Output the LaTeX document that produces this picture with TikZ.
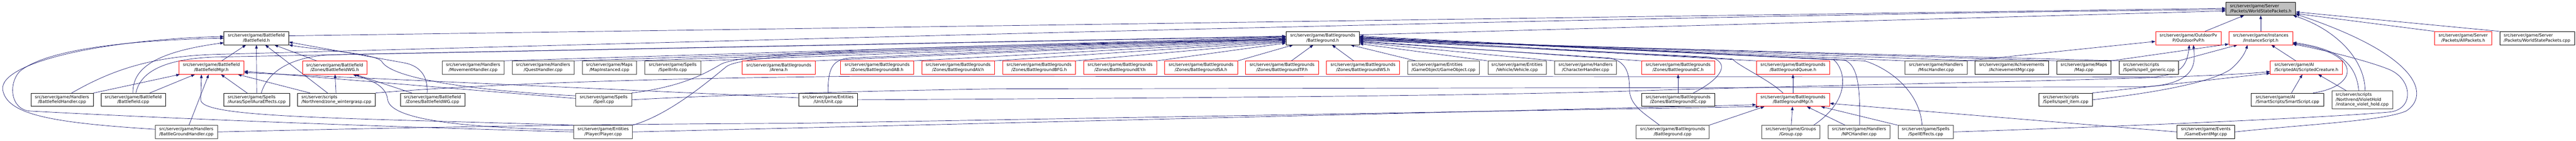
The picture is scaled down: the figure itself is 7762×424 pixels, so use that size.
\documentclass[tikz,border=0pt]{standalone}
\usepackage{fontspec}
\setmainfont{DejaVu Sans}
\usetikzlibrary{arrows.meta}
\definecolor{edgec}{RGB}{25,25,112}
\definecolor{rootfill}{RGB}{191,191,191}
\pgfdeclarelayer{bg}
\pgfsetlayers{bg,main}
\tikzset{
  nb/.style={draw=black, line width=1pt, fill=white, minimum height=40pt, inner xsep=0pt, inner ysep=0pt,
             font=\fontsize{12.6}{15}\selectfont, align=center},
  nr/.style={nb, draw=red},
  ng/.style={nb, draw=black!75},
  nl/.style={align=left},
  e/.style={draw=edgec, line width=1.1pt, -{Triangle[length=11pt,width=8pt]}}
}
\begin{document}
\begin{tikzpicture}[x=1pt,y=-1pt]
\useasboundingbox (0,0) rectangle (7762,424);
% ---------- row 0
\node[nb,nl,fill=rootfill,minimum width=210pt] (root) at (6812,26) {src/server/game/Server\\/Packets/WorldStatePackets.h};
% ---------- row 1
\node[nb,minimum width=195pt] (bfh) at (772.5,115) {src/server/game/Battlefield\\/Battlefield.h};
\node[nb,minimum width=221pt] (bgh) at (3985.5,115) {src/server/game/Battlegrounds\\/Battleground.h};
\node[nr,minimum width=198pt] (opvp) at (6594,115) {src/server/game/OutdoorPv\\P/OutdoorPvP.h};
\node[nr,minimum width=192pt] (inst) at (6812,115) {src/server/game/Instances\\/InstanceScript.h};
\node[nr,minimum width=172pt] (allp) at (7422,115) {src/server/game/Server\\/Packets/AllPackets.h};
\node[nb,nl,minimum width=225pt] (wspc) at (7644.5,115) {src/server/game/Server\\/Packets/WorldStatePackets.cpp};
% ---------- row 2
\node[nr,minimum width=196pt] (bfmgr) at (637,204) {src/server/game/Battlefield\\/BattlefieldMgr.h};
\node[nr,minimum width=195pt] (bfwgh) at (1008.5,204) {src/server/game/Battlefield\\/Zones/BattlefieldWG.h};
\node[ng,minimum width=187pt] (movh) at (1425.5,204) {src/server/game/Handlers\\/MovementHandler.cpp};
\node[ng,minimum width=187pt] (questh) at (1636.5,204) {src/server/game/Handlers\\/QuestHandler.cpp};
\node[ng,minimum width=164pt] (mapinst) at (1836,204) {src/server/game/Maps\\/MapInstanced.cpp};
\node[ng,minimum width=168pt] (spinfo) at (2027,204) {src/server/game/Spells\\/SpellInfo.cpp};
\node[nr,minimum width=221pt] (arena) at (2346.5,204) {src/server/game/Battlegrounds\\/Arena.h};
\node[nr,minimum width=220pt] (bgab) at (2643,204) {src/server/game/Battlegrounds\\/Zones/BattlegroundAB.h};
\node[nr,minimum width=220pt] (bgav) at (2887,204) {src/server/game/Battlegrounds\\/Zones/BattlegroundAV.h};
\node[nr,minimum width=220pt] (bgbfg) at (3131,204) {src/server/game/Battlegrounds\\/Zones/BattlegroundBFG.h};
\node[nr,minimum width=220pt] (bgey) at (3375,204) {src/server/game/Battlegrounds\\/Zones/BattlegroundEY.h};
\node[nr,minimum width=220pt] (bgsa) at (3619,204) {src/server/game/Battlegrounds\\/Zones/BattlegroundSA.h};
\node[nr,minimum width=220pt] (bgtp) at (3863,204) {src/server/game/Battlegrounds\\/Zones/BattlegroundTP.h};
\node[nr,minimum width=220pt] (bgws) at (4107,204) {src/server/game/Battlegrounds\\/Zones/BattlegroundWS.h};
\node[ng,nl,minimum width=217pt] (gobj) at (4349.5,204) {src/server/game/Entities\\/GameObject/GameObject.cpp};
\node[ng,minimum width=176pt] (veh) at (4571,204) {src/server/game/Entities\\/Vehicle/Vehicle.cpp};
\node[ng,minimum width=187pt] (charh) at (4777.5,204) {src/server/game/Handlers\\/CharacterHandler.cpp};
\node[nr,minimum width=221pt] (bgich) at (5056.5,204) {src/server/game/Battlegrounds\\/Zones/BattlegroundIC.h};
\node[nr,minimum width=221pt] (bgq) at (5402.5,204) {src/server/game/Battlegrounds\\/BattlegroundQueue.h};
\node[ng,minimum width=187pt] (misch) at (5833.5,204) {src/server/game/Handlers\\/MiscHandler.cpp};
\node[nb,minimum width=221pt] (achv) at (6061.5,204) {src/server/game/Achievements\\/AchievementMgr.cpp};
\node[nb,minimum width=164pt] (mapc) at (6279,204) {src/server/game/Maps\\/Map.cpp};
\node[nb,nl,minimum width=178pt] (spgen) at (6475,204) {src/server/scripts\\/Spells/spell\_generic.cpp};
\node[nr,nl,minimum width=217pt] (scrc) at (6949.5,204) {src/server/game/AI\\/ScriptedAI/ScriptedCreature.h};
% ---------- row 3
\node[nb,minimum width=188pt] (bfhand) at (187,301) {src/server/game/Handlers\\/BattlefieldHandler.cpp};
\node[nb,minimum width=195pt] (bfcpp) at (401.5,301) {src/server/game/Battlefield\\/Battlefield.cpp};
\node[nb,nl,minimum width=199pt] (sae) at (773.5,301) {src/server/game/Spells\\/Auras/SpellAuraEffects.cpp};
\node[nb,nl,minimum width=235pt] (zwg) at (1013.5,301) {src/server/scripts\\/Northrend/zone\_wintergrasp.cpp};
\node[nb,minimum width=194pt] (bfwgc) at (1303,301) {src/server/game/Battlefield\\/Zones/BattlefieldWG.cpp};
\node[ng,minimum width=168pt] (spell) at (1819,301) {src/server/game/Spells\\/Spell.cpp};
\node[nb,minimum width=178pt] (unit) at (2495,301) {src/server/game/Entities\\/Unit/Unit.cpp};
\node[nb,minimum width=221pt] (bgicc) at (5056.5,301) {src/server/game/Battlegrounds\\/Zones/BattlegroundIC.cpp};
\node[nr,minimum width=221pt] (bgmgr) at (5402.5,301) {src/server/game/Battlegrounds\\/BattlegroundMgr.h};
\node[nb,nl,minimum width=160pt] (spitem) at (6224,301) {src/server/scripts\\/Spells/spell\_item.cpp};
\node[nb,nl,minimum width=219pt] (smart) at (6892.5,301) {src/server/game/AI\\/SmartScripts/SmartScript.cpp};
\node[ng,nl,minimum width=183pt,minimum height=54pt] (violet) at (7117.5,301) {src/server/scripts\\/Northrend/VioletHold\\/instance\_violet\_hold.cpp};
% ---------- row 4
\node[ng,minimum width=187pt] (bghand) at (561.5,398) {src/server/game/Handlers\\/BattleGroundHandler.cpp};
\node[ng,minimum width=177pt] (player) at (1817.5,398) {src/server/game/Entities\\/Player/Player.cpp};
\node[ng,minimum width=220pt] (bgcpp) at (5040,398) {src/server/game/Battlegrounds\\/Battleground.cpp};
\node[ng,minimum width=176pt] (group) at (5396,398) {src/server/game/Groups\\/Group.cpp};
\node[ng,minimum width=187pt] (npch) at (5601.5,398) {src/server/game/Handlers\\/NPCHandler.cpp};
\node[ng,minimum width=167pt] (speff) at (5802.5,398) {src/server/game/Spells\\/SpellEffects.cpp};
\node[nb,minimum width=173pt] (gem) at (6646.5,398) {src/server/game/Events\\/GameEventMgr.cpp};

\begin{pgfonlayer}{bg}
% ---- into WorldStatePackets.h
\draw[e] ([yshift=7pt]bfh.east) -- ([yshift=1pt]root.west);
\draw[e] ([xshift=29pt]bfhand.north) .. controls (330,215) and (450,170) .. (650,164) .. controls (2500,115) and (5200,42) .. ([yshift=-3pt]root.west);
\draw[e] ([yshift=10pt]bgh.east) -- ([yshift=-7pt]root.west);
\draw[e] (opvp) -- (root);
\draw[e] (inst) -- (root);
\draw[e] (allp.north west) -- ([yshift=-15pt]root.east);
\draw[e] (wspc.north west) -- ([yshift=-10pt]root.east);
\draw[e] ([xshift=9pt]violet.north) .. controls (7126,180) and (7040,90) .. ([xshift=-8pt]root.south east);
\draw[e] (gem.east) .. controls (6950,375) and (7180,365) .. (7250,335) .. controls (7320,290) and (7300,170) .. ([yshift=4pt]root.south east);
% ---- into Battlefield.h
\draw[e] (bfmgr) -- (bfh);
\draw[e] (bfwgh) -- (bfh);
\draw[e] (sae) -- (bfh);
\draw[e] (zwg) -- (bfh);
\draw[e] ([xshift=-16pt]bfwgc.north) .. controls (1290,235) and (1270,200) .. (1220,190) -- ([yshift=-12pt]bfh.east);
\draw[e] ([yshift=12pt]spell.west) .. controls (1450,275) and (1180,240) .. (1150,185) .. controls (1130,160) and (950,150) .. (bfh.south east);
\draw[e] ([yshift=8pt]bghand.west) .. controls (150,370) and (20,345) .. (8,270) .. controls (0,190) and (300,120) .. ([yshift=5pt]bfh.west);
\draw[e] (player.west) .. controls (1000,378) and (400,352) .. (90,335) .. controls (30,330) and (25,250) .. (60,215) .. controls (150,140) and (450,120) .. (bfh.west);
\draw[e] ([xshift=-1pt]bfcpp.north) .. controls (400,220) and (440,160) .. ([yshift=-14pt]bfh.west);
% ---- into BattlefieldMgr.h
\draw[e] (bfhand) -- (bfmgr);
\draw[e] (bfcpp) -- (bfmgr);
\draw[e] (bghand) -- (bfmgr);
\draw[e] (sae) -- (bfmgr);
\draw[e] (zwg) -- (bfmgr);
\draw[e] (player.north west) .. controls (1000,355) and (600,355) .. (605,300) -- ([xshift=-30pt]bfmgr.south);
\draw[e] ([yshift=4pt]spell.west) -- ([yshift=-11pt]bfmgr.east);
\draw[e] ([yshift=6pt]unit.west) -- ([yshift=-15pt]bfmgr.east);
% ---- into BattlefieldWG.h
\draw[e] (zwg) -- (bfwgh);
\draw[e] (bfwgc) -- (bfwgh);
\draw[e] ([yshift=6pt]player.west) .. controls (1350,385) and (1175,355) .. (1168,300) .. controls (1163,255) and (1110,240) .. ([xshift=55pt]bfwgh.south);
% ---- into Battleground.h (left)
\draw[e] (movh.north east) -- ([yshift=4pt]bgh.west);
\draw[e] (questh.north east) -- ([yshift=2pt]bgh.west);
\draw[e] (mapinst.north east) -- (bgh.west);
\draw[e] (spinfo.north east) -- ([yshift=-2pt]bgh.west);
\draw[e] (arena.north east) -- ([yshift=-6pt]bgh.west);
\draw[e] (bgab.north east) -- ([yshift=-8pt]bgh.west);
\draw[e] (bgav.north east) -- ([yshift=-10pt]bgh.west);
\draw[e] (bgbfg.north east) -- ([yshift=-12pt]bgh.west);
\draw[e] (bgey.north east) -- ([yshift=-15pt]bgh.west);
\draw[e] (bgsa.north east) -- ([xshift=22pt]bgh.south west);
\draw[e] (bgtp) -- (bgh);
\draw[e] (bgws) -- (bgh);
\draw[e] (gobj) -- (bgh);
\draw[e] ([xshift=14pt]sae.north) .. controls (800,235) and (850,172) .. (1000,165) -- ([yshift=6pt]bgh.west);
\draw[e] ([xshift=8pt]bfcpp.north) .. controls (420,230) and (470,178) .. (650,172) -- ([yshift=5pt]bgh.west);
\draw[e] (spell.north east) .. controls (2050,262) and (2120,225) .. (2170,195) .. controls (2230,158) and (2700,140) .. ([yshift=-4pt]bgh.west);
\draw[e] (player.north east) .. controls (2020,345) and (2140,240) .. (2190,200) .. controls (2250,160) and (2750,145) .. ([yshift=-5pt]bgh.west);
\draw[e] (unit.north) .. controls (2495,210) and (2505,180) .. (2560,175) -- ([yshift=-3pt]bgh.west);
% ---- into Battleground.h (right)
\draw[e] (veh.north west) -- ([yshift=-17pt]bgh.east);
\draw[e] (charh.north west) -- ([yshift=-13pt]bgh.east);
\draw[e] (bgich.north west) -- ([yshift=-9pt]bgh.east);
\draw[e] ([xshift=46pt]bgicc.north) .. controls (5200,230) and (5210,185) .. (5150,172) -- ([yshift=-6pt]bgh.east);
\draw[e] (bgq.north west) -- ([yshift=-3pt]bgh.east);
\draw[e] ([xshift=-30pt]bgmgr.north) .. controls (5330,240) and (5240,200) .. (5220,178) -- (bgh.east);
\draw[e] ([xshift=69pt]group.north) .. controls (5580,300) and (5560,210) .. (5525,180) -- ([yshift=2pt]bgh.east);
\draw[e] ([xshift=2pt]npch.north) .. controls (5605,270) and (5600,200) .. (5560,182) -- ([yshift=4pt]bgh.east);
\draw[e] ([xshift=-11pt]speff.north) .. controls (5785,280) and (5700,210) .. (5620,184) -- ([yshift=6pt]bgh.east);
\draw[e] (misch.north west) -- ([yshift=1pt]bgh.east);
\draw[e] (achv.north west) -- ([yshift=-1pt]bgh.east);
\draw[e] (mapc.north west) -- ([yshift=-4pt]bgh.east);
\draw[e] (spgen.north west) -- ([yshift=-7pt]bgh.east);
\draw[e] ([xshift=-40pt]bgcpp.north) .. controls (4960,345) and (4910,320) .. (4910,270) .. controls (4910,220) and (4900,185) .. (4850,175) -- ([yshift=-11pt]bgh.east);
% ---- BattlegroundIC.h, BattlegroundQueue.h
\draw[e] (bgicc) -- (bgich);
\draw[e] (bgmgr) -- (bgq);
% ---- into BattlegroundMgr.h
\draw[e] (group) -- (bgmgr);
\draw[e] (npch) -- (bgmgr);
\draw[e] (speff) -- (bgmgr);
\draw[e] (bgcpp.north east) -- ([xshift=25pt]bgmgr.south west);
\draw[e] (player.east) -- ([yshift=-15pt]bgmgr.west);
\draw[e] (bghand.east) .. controls (1200,385) and (1800,374) .. (2400,372) -- ([xshift=10pt]bgmgr.south west);
\draw[e] (gem.west) -- ([yshift=-11pt]bgmgr.east);
% ---- into OutdoorPvP.h
\draw[e] (misch.north east) -- ([yshift=-10pt]opvp.west);
\draw[e] (zwg.north east) .. controls (1400,258) and (1900,236) .. (2600,230) -- (6470,232) .. controls (6580,232) and (6590,190) .. ([xshift=3pt]opvp.south);
\draw[e] (spell.east) .. controls (2100,290) and (2500,276) .. (3000,268) -- (6450,262) .. controls (6620,258) and (6615,190) .. ([xshift=15pt]opvp.south);
% ---- into ScriptedCreature.h
\draw[e] (smart) -- (scrc);
\draw[e] (violet) -- (scrc);
\draw[e] (unit.east) .. controls (3500,296) and (4400,290) .. (4900,275) .. controls (5500,255) and (6600,240) .. ([yshift=-12pt]scrc.west);
\draw[e] (spitem.north east) -- ([yshift=-17pt]scrc.west);
% ---- into InstanceScript.h
\draw[e] (scrc) -- (inst);
\draw[e] (mapc.north east) -- ([yshift=-18pt]inst.west);
\draw[e] (spgen.north east) -- ([xshift=-70pt]inst.south);
\draw[e] (spitem.east) .. controls (6450,285) and (6650,255) .. (6720,210) .. controls (6750,185) and (6765,160) .. ([xshift=-40pt]inst.south);
\draw[e] ([xshift=77pt]smart.north) .. controls (7110,260) and (7120,160) .. ([yshift=-16pt]inst.east);
\draw[e] ([xshift=-10pt]violet.north) .. controls (7100,200) and (7060,150) .. ([yshift=-13pt]inst.east);
\draw[e] (speff.east) .. controls (6500,378) and (7050,352) .. (7200,338) .. controls (7275,330) and (7270,240) .. (7200,210) .. controls (7140,185) and (7000,150) .. ([yshift=-18pt]inst.east);
\end{pgfonlayer}
\end{tikzpicture}
\end{document}
